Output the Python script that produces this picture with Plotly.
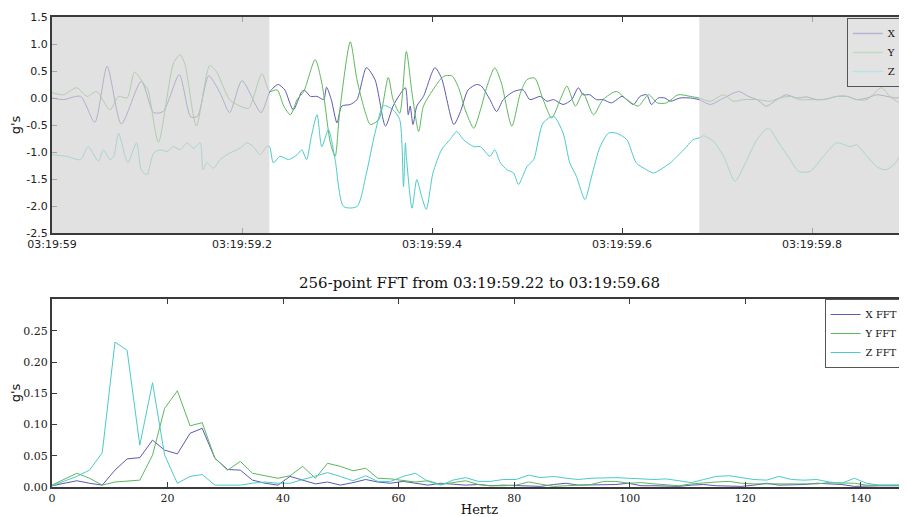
import plotly.graph_objects as go

# ---------------- time-domain data (seconds after 03:19:59) ----------------
x_t = [0.000, 0.012, 0.030, 0.045, 0.058, 0.073, 0.094, 0.107, 0.117, 0.134, 0.146, 0.153,
       0.165, 0.177, 0.187, 0.200, 0.220, 0.2295, 0.238, 0.245, 0.254, 0.263, 0.266, 0.272,
       0.279, 0.286, 0.289, 0.294, 0.300, 0.305, 0.314, 0.321, 0.331, 0.340, 0.351, 0.359,
       0.366, 0.372, 0.375, 0.377, 0.380, 0.384, 0.391, 0.403, 0.410, 0.423, 0.430, 0.438,
       0.447, 0.452, 0.461, 0.468, 0.475, 0.486, 0.496, 0.503, 0.514, 0.521, 0.528, 0.538,
       0.547, 0.554, 0.559, 0.566, 0.573, 0.580, 0.589, 0.600, 0.605, 0.612, 0.619, 0.626,
       0.631, 0.638, 0.645, 0.651, 0.661, 0.672, 0.681, 0.693, 0.707, 0.723, 0.733, 0.742,
       0.752, 0.763, 0.773, 0.784, 0.794, 0.805, 0.815, 0.826, 0.837, 0.847, 0.858, 0.868,
       0.879, 0.889, 0.900]
x_v = [0.00, -0.03, 0.03, -0.45, 0.59, -0.48, 0.31, -0.27, -0.25, 0.43, -0.35, -0.34,
       0.41, 0.09, -0.27, 0.32, -0.27, 0.12, 0.25, 0.15, -0.22, 0.12, 0.14, 0.03,
       0.03, -0.03, 0.20, -0.03, -0.46, -0.15, -0.12, -0.03, 0.56, 0.34, -0.52, -0.15,
       0.06, 0.19, -0.31, -0.15, -0.49, -0.15, 0.03, 0.56, 0.37, -0.49, -0.25, 0.15,
       0.25, 0.22, -0.03, -0.25, -0.03, 0.12, 0.15, -0.03, 0.03, -0.06, -0.03, -0.12,
       -0.03, 0.19, 0.06, 0.06, -0.03, -0.03, -0.09, 0.03, -0.03, -0.12, 0.03, 0.06,
       -0.12, 0.00, 0.00, -0.06, 0.00, 0.00, -0.03, -0.12, 0.00, 0.12, 0.03, -0.03,
       -0.15, -0.03, 0.06, 0.00, 0.02, -0.03, -0.02, 0.03, 0.03, -0.03, 0.00, 0.06,
       0.03, 0.00, 0.06]

y_t = [0.000, 0.012, 0.026, 0.037, 0.047, 0.061, 0.070, 0.079, 0.087, 0.096, 0.101, 0.112,
       0.128, 0.135, 0.140, 0.152, 0.166, 0.173, 0.187, 0.198, 0.207, 0.221, 0.229, 0.237,
       0.244, 0.251, 0.258, 0.265, 0.277, 0.284, 0.293, 0.298, 0.303, 0.314, 0.321, 0.330,
       0.335, 0.344, 0.354, 0.359, 0.366, 0.373, 0.379, 0.386, 0.391, 0.401, 0.412, 0.421,
       0.428, 0.435, 0.444, 0.451, 0.458, 0.466, 0.473, 0.484, 0.493, 0.500, 0.508, 0.517,
       0.526, 0.535, 0.542, 0.551, 0.559, 0.570, 0.580, 0.594, 0.605, 0.617, 0.628, 0.637,
       0.647, 0.659, 0.672, 0.681, 0.693, 0.707, 0.717, 0.728, 0.742, 0.756, 0.766, 0.777,
       0.787, 0.798, 0.812, 0.826, 0.837, 0.847, 0.858, 0.873, 0.882, 0.893, 0.900]
y_v = [0.10, 0.06, 0.19, 0.03, 0.12, -0.22, 0.03, 0.00, 0.48, 0.28, 0.15, -0.82,
       0.65, 0.80, 0.62, -0.52, 0.60, 0.49, -0.03, -0.15, -0.19, 0.45, 0.12, 0.15,
       -0.15, -0.31, -0.03, 0.12, 0.71, 0.28, -0.83, -1.08, -0.22, 1.04, 0.34, -0.28,
       -0.49, -0.40, 0.38, -0.03, -0.28, 0.86, 0.09, -0.62, -0.15, 0.15, 0.40, 0.41,
       0.19, -0.22, -0.56, -0.22, 0.22, 0.56, 0.28, -0.52, 0.09, 0.34, 0.37, -0.03,
       -0.37, -0.03, 0.22, -0.15, 0.09, -0.31, -0.03, 0.12, -0.03, -0.15, 0.06, -0.09,
       -0.09, 0.06, 0.03, 0.00, -0.06, 0.06, -0.06, -0.03, -0.03, -0.06, 0.00, 0.03,
       -0.03, -0.03, -0.03, 0.03, 0.03, -0.03, -0.03, 0.19, 0.03, -0.09, -0.03]

z_t = [0.000, 0.015, 0.030, 0.038, 0.049, 0.054, 0.061, 0.065, 0.070, 0.077, 0.080, 0.089,
       0.094, 0.100, 0.107, 0.114, 0.121, 0.128, 0.135, 0.142, 0.149, 0.156, 0.159, 0.163,
       0.170, 0.177, 0.187, 0.198, 0.205, 0.212, 0.219, 0.226, 0.229, 0.233, 0.240, 0.249,
       0.258, 0.263, 0.268, 0.273, 0.279, 0.284, 0.291, 0.298, 0.307, 0.321, 0.331, 0.340,
       0.349, 0.359, 0.366, 0.370, 0.372, 0.373, 0.379, 0.384, 0.389, 0.394, 0.401, 0.410,
       0.419, 0.426, 0.433, 0.444, 0.451, 0.461, 0.466, 0.472, 0.479, 0.486, 0.491, 0.500,
       0.507, 0.517, 0.528, 0.538, 0.545, 0.552, 0.561, 0.568, 0.577, 0.586, 0.594, 0.605,
       0.615, 0.626, 0.633, 0.640, 0.651, 0.658, 0.665, 0.675, 0.681, 0.686, 0.696, 0.707,
       0.719, 0.730, 0.742, 0.754, 0.765, 0.777, 0.786, 0.798, 0.812, 0.826, 0.840, 0.847,
       0.858, 0.868, 0.877, 0.886, 0.894, 0.900]
z_v = [-1.05, -1.08, -1.14, -0.90, -1.17, -0.96, -1.14, -1.08, -0.65, -1.08, -1.20, -0.83,
       -1.33, -1.42, -1.02, -0.96, -0.99, -0.90, -0.96, -0.83, -0.93, -0.83, -1.33, -1.20,
       -1.30, -1.14, -1.02, -0.93, -0.83, -0.90, -1.05, -0.90, -0.90, -1.20, -1.08, -1.14,
       -1.05, -0.96, -1.14, -0.71, -0.31, -0.90, -0.59, -1.14, -2.01, -2.01, -1.39, -0.65,
       -0.14, -0.22, -0.40, -1.64, -0.83, -1.08, -2.04, -1.51, -1.82, -2.06, -1.39, -0.96,
       -0.77, -0.62, -0.77, -0.90, -0.90, -1.08, -0.96, -1.20, -1.33, -1.39, -1.60, -1.27,
       -1.14, -0.46, -0.34, -0.65, -1.20, -1.45, -1.88, -1.45, -0.90, -0.65, -0.65, -0.77,
       -1.20, -1.33, -1.39, -1.33, -1.20, -1.08, -0.96, -0.77, -0.74, -0.70, -0.80, -1.08,
       -1.54, -1.20, -0.77, -0.56, -0.83, -1.14, -1.36, -1.36, -1.08, -0.83, -0.90, -0.87,
       -1.08, -1.27, -1.33, -1.24, -1.05, -1.03]

time_ticks = [0.0, 0.2, 0.4, 0.6, 0.8]
time_tick_labels = ["03:19:59", "03:19:59.2", "03:19:59.4", "03:19:59.6", "03:19:59.8"]
g_ticks = [1.5, 1.0, 0.5, 0.0, -0.5, -1.0, -1.5, -2.0, -2.5]
g_tick_labels = ["1.5", "1.0", "0.5", "0.0", "-0.5", "-1.0", "-1.5", "-2.0", "-2.5"]
window = [0.2288, 0.6814]   # FFT window (s after 03:19:59)

# ---------------- FFT data ----------------
freq_hz = [0.0, 2.2, 4.3, 6.5, 8.7, 10.9, 13.0, 15.2, 17.4, 19.5, 21.7, 23.9, 26.0, 28.2,
           30.4, 32.6, 34.7, 36.9, 39.1, 41.2, 43.4, 45.6, 47.7, 49.9, 52.1, 54.3, 56.4,
           58.6, 60.8, 62.9, 65.1, 67.3, 69.4, 71.6, 73.8, 75.9, 78.1, 80.3, 82.5, 84.6,
           86.8, 89.0, 91.1, 93.3, 95.5, 97.6, 99.8, 102.0, 104.2, 106.3, 108.5, 110.7,
           112.8, 115.0, 117.2, 119.3, 121.5, 123.7, 125.8, 128.0, 130.2, 132.4, 134.5,
           136.7, 138.9, 141.0, 143.2, 145.4, 147.5, 149.7]
x_fft = [0.002, 0.006, 0.010, 0.006, 0.003, 0.027, 0.045, 0.047, 0.075, 0.059, 0.053, 0.086,
         0.094, 0.046, 0.028, 0.027, 0.011, 0.006, 0.003, 0.017, 0.011, 0.005, 0.008, 0.003,
         0.007, 0.012, 0.008, 0.006, 0.009, 0.006, 0.003, 0.006, 0.004, 0.003, 0.004, 0.002,
         0.003, 0.002, 0.002, 0.001, 0.004, 0.006, 0.003, 0.003, 0.003, 0.004, 0.006, 0.002,
         0.002, 0.002, 0.001, 0.003, 0.004, 0.002, 0.002, 0.001, 0.003, 0.006, 0.003, 0.003,
         0.004, 0.006, 0.005, 0.004, 0.001, 0.002, 0.002, 0.002, 0.002, 0.002]
y_fft = [0.003, 0.013, 0.022, 0.014, 0.003, 0.008, 0.009, 0.011, 0.051, 0.126, 0.154, 0.098,
         0.103, 0.046, 0.027, 0.041, 0.022, 0.018, 0.014, 0.018, 0.033, 0.014, 0.038, 0.033,
         0.026, 0.030, 0.014, 0.013, 0.010, 0.008, 0.010, 0.004, 0.007, 0.010, 0.004, 0.002,
         0.002, 0.003, 0.008, 0.004, 0.001, 0.002, 0.003, 0.004, 0.009, 0.009, 0.006, 0.007,
         0.005, 0.004, 0.002, 0.005, 0.007, 0.008, 0.009, 0.006, 0.005, 0.005, 0.006, 0.006,
         0.005, 0.005, 0.007, 0.006, 0.006, 0.003, 0.003, 0.003, 0.003, 0.003]
z_fft = [0.002, 0.010, 0.017, 0.027, 0.055, 0.232, 0.219, 0.067, 0.167, 0.051, 0.006, 0.017,
         0.020, 0.003, 0.003, 0.003, 0.006, 0.008, 0.006, 0.006, 0.012, 0.018, 0.023, 0.017,
         0.010, 0.018, 0.009, 0.009, 0.017, 0.022, 0.009, 0.003, 0.011, 0.015, 0.009, 0.009,
         0.012, 0.012, 0.019, 0.015, 0.017, 0.014, 0.012, 0.014, 0.015, 0.015, 0.014, 0.013,
         0.012, 0.013, 0.010, 0.007, 0.012, 0.017, 0.018, 0.015, 0.012, 0.011, 0.017, 0.012,
         0.011, 0.012, 0.008, 0.006, 0.014, 0.006, 0.003, 0.003, 0.004, 0.004]
fft_ticks = [0, 20, 40, 60, 80, 100, 120, 140]
fft_g_ticks = [0.0, 0.05, 0.10, 0.15, 0.20, 0.25]

series_names = ["X", "Y", "Z"]
colors = ["#5a5ab2", "#5cb85c", "#4ccaca"]
faded = ["#b4b4d6", "#c0dcc0", "#b9e3e3"]

SANS = "DejaVu Sans, Arial, sans-serif"
SERIF = "DejaVu Serif, Liberation Serif, serif"
AX = "#3a3a3a"

fig = go.Figure()
for name, tt, vv, col in zip(series_names, [x_t, y_t, z_t], [x_v, y_v, z_v], colors):
    fig.add_trace(go.Scatter(x=tt, y=vv, mode="lines",
                             line=dict(color=col, width=1, shape="spline", smoothing=0.7),
                             name=name, showlegend=False, xaxis="x", yaxis="y"))
for name, col in zip(series_names, faded):
    fig.add_trace(go.Scatter(x=[None], y=[None], mode="lines", line=dict(color=col, width=1.5),
                             name=name, legend="legend", xaxis="x", yaxis="y"))
for name, vv, col in zip(series_names, [x_fft, y_fft, z_fft], colors):
    fig.add_trace(go.Scatter(x=freq_hz, y=vv, mode="lines", line=dict(color=col, width=1),
                             name=name + " FFT", legend="legend2", xaxis="x2", yaxis="y2"))

shade = "rgba(212,212,212,0.7)"
for x0, x1 in [(0.0, window[0]), (window[1], 0.9)]:
    fig.add_shape(type="rect", xref="x", yref="y domain", x0=x0, x1=x1, y0=0, y1=1,
                  fillcolor=shade, line=dict(width=0), layer="above")

axis_common = dict(showgrid=False, zeroline=False, showline=True, linecolor=AX, linewidth=2,
                   ticks="inside", ticklen=5, tickcolor=AX, automargin=False)

# the page body adds an 8 px offset on the left and top; the figure is sized to fit the window
fig.update_layout(
    width=899, height=509,
    margin=dict(l=44, r=0, t=9, b=30),
    paper_bgcolor="white", plot_bgcolor="white",
    xaxis=dict(domain=[0, 1], range=[0, 0.9], anchor="y", tickvals=time_ticks,
               ticktext=time_tick_labels, mirror="ticks",
               tickfont=dict(family=SANS, size=11, color="#222"), **axis_common),
    yaxis=dict(domain=[0.5404, 1], range=[-2.5, 1.5], anchor="x", tickvals=g_ticks,
               ticktext=g_tick_labels, tickfont=dict(family=SANS, size=11, color="#222"),
               title=dict(text="g's", font=dict(family=SANS, size=13, color="#111"), standoff=4),
               **axis_common),
    xaxis2=dict(domain=[0, 1], range=[0, 148], anchor="y2", tickvals=fft_ticks, mirror="ticks",
                tickfont=dict(family=SERIF, size=11, color="#222"),
                title=dict(text="Hertz", font=dict(family=SERIF, size=13, color="#111"), standoff=2),
                **axis_common),
    yaxis2=dict(domain=[0, 0.4], range=[0, 0.301], anchor="x2", tickvals=fft_g_ticks,
                tickformat=".2f", tickfont=dict(family=SERIF, size=11, color="#222"),
                title=dict(text="g's", font=dict(family=SANS, size=13, color="#111"), standoff=4),
                **axis_common),
    legend=dict(x=0.994, y=0.998, xanchor="right", yanchor="top", bgcolor="#e3e3e3",
                bordercolor="#555", borderwidth=1, font=dict(family=SERIF, size=10, color="#111"),
                tracegroupgap=0, itemwidth=30),
    legend2=dict(x=0.996, y=0.4, xanchor="right", yanchor="top", bgcolor="white",
                 bordercolor="#555", borderwidth=1, font=dict(family=SERIF, size=10, color="#111"),
                 tracegroupgap=0, itemwidth=30),
    annotations=[dict(text="256-point FFT from 03:19:59.22 to 03:19:59.68", xref="paper",
                      yref="paper", x=0.5, y=0.434, xanchor="center", yanchor="middle",
                      showarrow=False, font=dict(family=SERIF, size=15, color="#111"))],
)

fig.write_html("out.html")
